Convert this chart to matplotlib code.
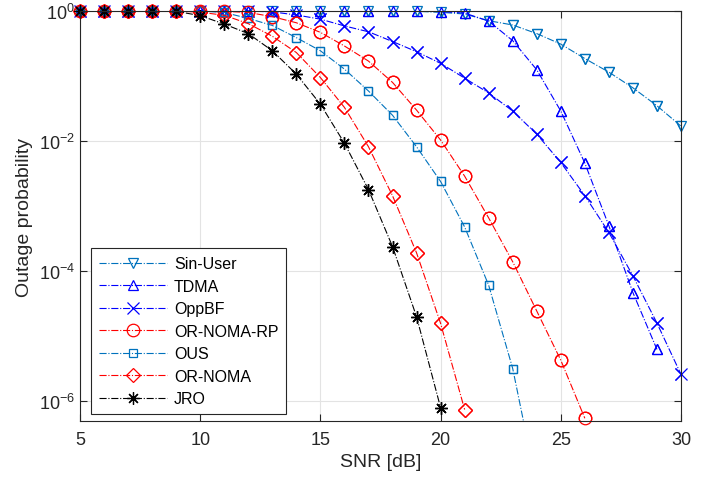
import numpy as np
import matplotlib
matplotlib.use('Agg')
import matplotlib.pyplot as plt
from matplotlib.ticker import NullLocator, FixedLocator

plt.rcParams['font.family'] = ['Liberation Sans', 'DejaVu Sans']
plt.rcParams['mathtext.fontset'] = 'custom'
plt.rcParams['mathtext.rm'] = 'Liberation Sans'

# Outage probability vs SNR
snr_sin_user = np.arange(5, 31)
sin_user = [1, 1, 1, 1, 1, 1, 1, 1, 1, 1, 1, 1, 1, 0.998, 0.99, 0.955, 0.9,
            0.71, 0.61, 0.45, 0.31, 0.186, 0.115, 0.066, 0.035, 0.017]

snr_tdma = np.arange(5, 30)
tdma = [1, 1, 1, 1, 1, 1, 1, 1, 1, 1, 1, 1, 1, 1, 0.995, 0.98, 0.93, 0.7,
        0.35, 0.125, 0.029, 0.0046, 5.0e-4, 4.7e-5, 6.3e-6]

snr_oppbf = np.arange(5, 31)
oppbf = [1, 1, 1, 1, 1, 1, 1, 1, 0.97, 0.87, 0.75, 0.59, 0.48, 0.34, 0.237,
         0.157, 0.093, 0.055, 0.029, 0.0128, 0.0047, 0.00145, 3.95e-4,
         8.5e-5, 1.6e-5, 2.6e-6]

snr_or_noma_rp = np.arange(5, 27)
or_noma_rp = [1, 1, 1, 1, 1, 1, 0.99, 0.95, 0.82, 0.66, 0.47, 0.29, 0.17,
              0.08, 0.030, 0.0104, 0.0029, 6.6e-4, 1.4e-4, 2.45e-5, 4.3e-6,
              5.5e-7]

snr_ous = np.arange(5, 25)
ous = [1, 1, 1, 1, 1, 1, 0.95, 0.77, 0.6, 0.39, 0.245, 0.128, 0.059, 0.025,
       0.0082, 0.0024, 4.8e-4, 6.1e-5, 3.2e-6, 5e-8]

snr_or_noma = np.arange(5, 22)
or_noma = [1, 1, 1, 1, 1, 0.96, 0.86, 0.64, 0.41, 0.23, 0.095, 0.033, 0.0082,
           0.00145, 1.92e-4, 1.58e-5, 7.5e-7]

snr_jro = np.arange(5, 21)
jro = [1, 1, 1, 1, 0.99, 0.85, 0.63, 0.45, 0.245, 0.107, 0.037, 0.0093,
       0.0018, 2.4e-4, 2.0e-5, 8e-7]

matlab_blue = '#0072BD'
ymin, ymax = 5e-7, 1

series = [
    ('Sin-User', snr_sin_user, sin_user, matlab_blue, 'v', 7),
    ('TDMA', snr_tdma, tdma, 'b', '^', 7),
    ('OppBF', snr_oppbf, oppbf, 'b', 'x', 8),
    ('OR-NOMA-RP', snr_or_noma_rp, or_noma_rp, 'r', 'o', 9),
    ('OUS', snr_ous, ous, matlab_blue, 's', 6),
    ('OR-NOMA', snr_or_noma, or_noma, 'r', 'D', 7.5),
    ('JRO', snr_jro, jro, 'k', (8, 2, 0), 9),
]

fig = plt.figure(figsize=(7.13, 4.81), dpi=100)
ax = fig.add_axes([0.1122, 0.1227, 0.8429, 0.8523])

for name, x, y, color, marker, ms in series:
    x = np.asarray(x)
    y = np.asarray(y, dtype=float)
    ax.plot(x, y, linestyle='-.', color=color, linewidth=0.8,
            marker=marker, markersize=ms, markerfacecolor='none',
            markeredgecolor=color, markeredgewidth=0.9, label=name)
    # MATLAB does not clip markers sitting on the axes edge
    inside = (y >= ymin) & (y <= ymax)
    ax.plot(x[inside], y[inside], linestyle='none', marker=marker,
            markersize=ms, markerfacecolor='none', markeredgecolor=color,
            markeredgewidth=0.9, clip_on=False)

ax.set_yscale('log')
ax.set_xlim(5, 30)
ax.set_ylim(ymin, ymax)
ax.xaxis.set_major_locator(FixedLocator([5, 10, 15, 20, 25, 30]))
ax.yaxis.set_major_locator(FixedLocator([1e-6, 1e-4, 1e-2, 1]))
ax.yaxis.set_minor_locator(NullLocator())

ax.grid(True, color='#e3e3e3', linewidth=0.8)
ax.set_axisbelow(True)
ax.tick_params(direction='in', length=5, width=0.8, top=True, right=True,
               labelsize=13, colors='#262626', labelcolor='#262626')
ax.tick_params(axis='x', pad=7)
for sp in ax.spines.values():
    sp.set_color('#262626')
    sp.set_linewidth(0.8)

ax.set_xlabel('SNR [dB]', fontsize=14, color='#262626', labelpad=4)
ax.set_ylabel('Outage probability', fontsize=14, color='#262626', labelpad=4)

leg = ax.legend(loc='lower left', bbox_to_anchor=(0.018, 0.016),
                borderaxespad=0, fontsize=11.5, handlelength=4.3,
                handletextpad=0.4, labelspacing=0.47, borderpad=0.5,
                numpoints=1, fancybox=False, framealpha=1)
leg.get_frame().set_edgecolor('#262626')
leg.get_frame().set_linewidth(0.8)

fig.savefig('out.png', dpi=100)
